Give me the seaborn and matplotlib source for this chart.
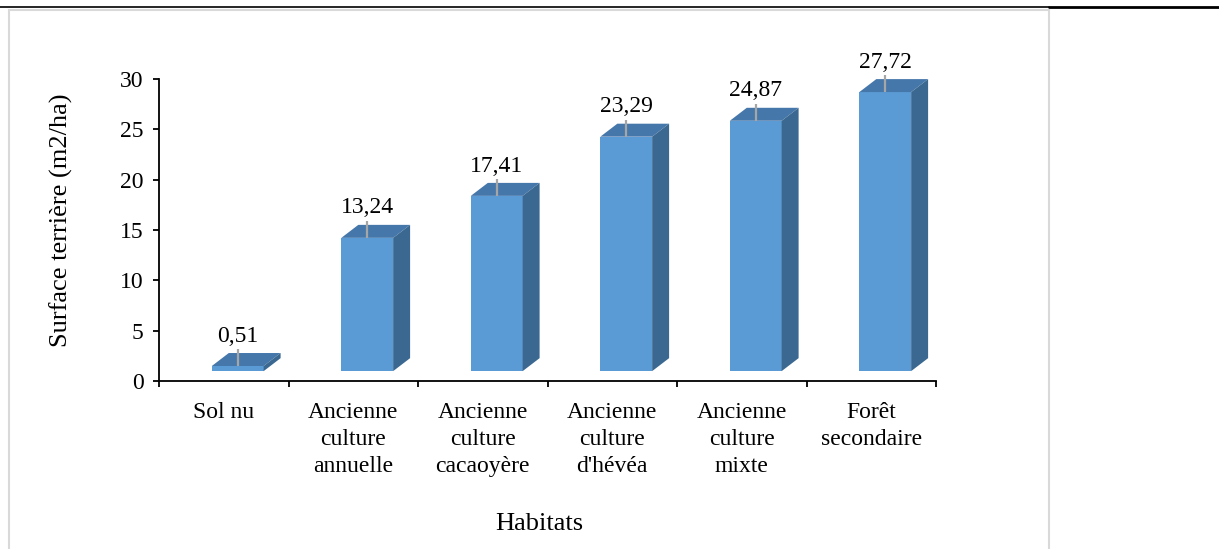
import matplotlib
matplotlib.use("Agg")
import matplotlib.pyplot as plt
import numpy as np
import pandas as pd
import seaborn as sns
from matplotlib.patches import Polygon, Rectangle
from matplotlib.lines import Line2D

# Basal area per habitat type
habitats = [
    "Sol nu",
    "Ancienne\nculture\nannuelle",
    "Ancienne\nculture\ncacaoyère",
    "Ancienne\nculture\nd'hévéa",
    "Ancienne\nculture\nmixte",
    "Forêt\nsecondaire",
]
surface = [0.51, 13.24, 17.41, 23.29, 24.87, 27.72]
value_labels = ["0,51", "13,24", "17,41", "23,29", "24,87", "27,72"]
y_ticks = [0, 5, 10, 15, 20, 25, 30]

FRONT = "#5B9BD5"
TOP = "#4677AB"
SIDE = "#3B6890"
ERR = "#A6A6A6"

sns.set_theme(style="white")
plt.rcParams["font.family"] = ["Liberation Serif", "DejaVu Serif"]

W, H = 1219, 549
fig = plt.figure(figsize=(W / 100, H / 100), dpi=100)
fig.patch.set_facecolor("white")
ax = fig.add_axes([159 / W, 1 - 381 / H, 777 / W, 302 / H])

df = pd.DataFrame({"Habitat": habitats, "Surface": surface})

# pseudo-3D geometry (data units)
FLOOR = 0.98      # front face sits above the floor line
SHIFT = 0.108     # front face offset to the right of the category centre
DX, DY = 0.131, 1.29   # depth vector of the extruded box

sns.barplot(data=df, x="Habitat", y="Surface", color=FRONT, saturation=1,
            width=0.40, bottom=FLOOR, errorbar=None, ax=ax, zorder=3,
            linewidth=0)

for p, v, lab in zip(ax.patches, surface, value_labels):
    p.set_x(p.get_x() + SHIFT)
    x0 = p.get_x()
    x1 = x0 + p.get_width()
    y0 = p.get_y()
    y1 = y0 + p.get_height()
    top = Polygon([(x0, y1), (x1, y1), (x1 + DX, y1 + DY), (x0 + DX, y1 + DY)],
                  closed=True, facecolor=TOP, edgecolor="none", zorder=3,
                  clip_on=False)
    side = Polygon([(x1, y0), (x1 + DX, y0 + DY), (x1 + DX, y1 + DY), (x1, y1)],
                   closed=True, facecolor=SIDE, edgecolor="none", zorder=3,
                   clip_on=False)
    ax.add_patch(top)
    ax.add_patch(side)
    xc = (x0 + x1) / 2
    ax.plot([xc, xc], [y1, v + 2.65], color=ERR, lw=1.6, zorder=4,
            clip_on=False, solid_capstyle="butt")
    ax.text(xc, v + 3.4, lab, ha="center", va="baseline", fontsize=17,
            color="black", zorder=5)

ax.set_xlim(-0.5, 5.5)
ax.set_ylim(0, 30)
ax.set_yticks(y_ticks)
ax.set_xticks(np.arange(-0.5, 6.0, 1.0), minor=True)

for s in ["top", "right"]:
    ax.spines[s].set_visible(False)
for s in ["left", "bottom"]:
    ax.spines[s].set_color("black")
    ax.spines[s].set_linewidth(1.3)

ax.tick_params(axis="x", which="major", length=0, pad=15, labelsize=17,
               labelcolor="black")
ax.tick_params(axis="x", which="minor", bottom=True, direction="out",
               length=4.5, width=1.3, color="black")
ax.tick_params(axis="y", which="major", left=True, direction="out",
               length=4.5, width=1.3, color="black", pad=6.5, labelsize=17,
               labelcolor="black")
for t in ax.get_xticklabels():
    t.set_linespacing(1.38)
    t.set_multialignment("center")

ax.set_xlabel("Habitats", fontsize=19, color="black", va="center")
ax.xaxis.set_label_coords(0.49, -0.475)
ax.set_ylabel("Surface terrière (m2/ha)", fontsize=19, color="black",
              va="center")
ax.yaxis.set_label_coords(-0.126, 0.533)
ax.grid(False)
ax.set_facecolor("none")

# chart area frame and the rule above it
fig.add_artist(Rectangle((9 / W, -0.05), (1049 - 9) / W, 1.05 - 9.5 / H,
                         transform=fig.transFigure, fill=False,
                         edgecolor="#D9D9D9", lw=1.5))
fig.add_artist(Line2D([0, 1049 / W], [1 - 7 / H] * 2,
                      transform=fig.transFigure, color="black", lw=1.2))
fig.add_artist(Line2D([1049 / W, 1], [1 - 7.3 / H] * 2,
                      transform=fig.transFigure, color="black", lw=2.0))

fig.savefig("out.png", dpi=100)
